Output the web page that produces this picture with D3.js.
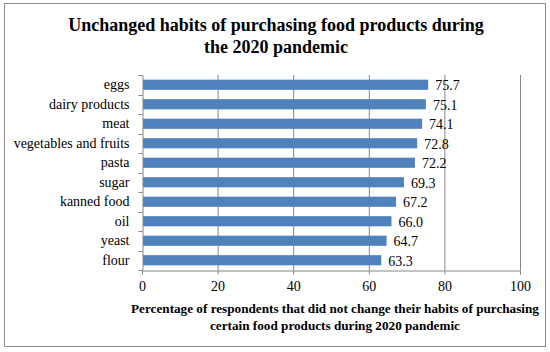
<!DOCTYPE html>
<html>
<head>
<script src="https://d3js.org/d3.v7.min.js"></script>
<style>
  body { margin: 0; background: #fff; }
  text { font-family: "Liberation Serif", "DejaVu Serif", serif; fill: #000; }
</style>
</head>
<body>
<svg width="550" height="352"></svg>
<script>
var categories = ["eggs", "dairy products", "meat", "vegetables and fruits", "pasta",
                  "sugar", "kanned food", "oil", "yeast", "flour"];
var values = [75.7, 75.1, 74.1, 72.8, 72.2, 69.3, 67.2, 66.0, 64.7, 63.3];
var xTicks = [0, 20, 40, 60, 80, 100];
var titleLines = ["Unchanged habits of purchasing food products during", "the 2020 pandemic"];
var axisTitleLines = ["Percentage of respondents that did not change their habits of purchasing",
                      "certain food products during 2020 pandemic"];

var serif = "'Liberation Serif', 'DejaVu Serif', serif";

var svg = d3.select("svg"),
    margin = {top: 75, left: 142, right: 30, bottom: 82},
    width = 550 - margin.left - margin.right,
    height = 352 - margin.top - margin.bottom;

var data = categories.map(function(c, i) { return {name: c, value: values[i]}; });

// outer frame
svg.append("rect")
    .attr("x", 4.5).attr("y", 3.5)
    .attr("width", 541).attr("height", 343)
    .attr("fill", "#fff")
    .attr("stroke", "#8c8c8c")
    .attr("stroke-width", 1);

svg.append("g").selectAll("text")
    .data(titleLines)
    .enter().append("text")
    .attr("x", 276)
    .attr("y", function(d, i) { return 31 + i * 22; })
    .attr("text-anchor", "middle")
    .style("font-size", "18px")
    .style("font-weight", "bold")
    .text(function(d) { return d; });

var x = d3.scaleLinear().domain([0, 100]).range([0, width]);
var y = d3.scaleBand().domain(categories).range([0, height]).paddingInner(0.48).paddingOuter(0.24);

var g = svg.append("g")
    .attr("transform", "translate(" + margin.left + "," + margin.top + ")");

// gridlines
g.append("g").selectAll("line")
    .data(xTicks.slice(1))
    .enter().append("line")
    .attr("x1", function(d) { return x(d) + 0.5; })
    .attr("x2", function(d) { return x(d) + 0.5; })
    .attr("y1", 0).attr("y2", height)
    .attr("stroke", "#868686");

g.append("g").selectAll("rect")
    .data(data)
    .enter().append("rect")
    .attr("x", x(0) + 1)
    .attr("y", function(d) { return y(d.name); })
    .attr("width", function(d) { return x(d.value) - x(0) - 1; })
    .attr("height", y.bandwidth())
    .attr("fill", "#4f81bd");

g.append("g").selectAll("text")
    .data(data)
    .enter().append("text")
    .attr("x", function(d) { return x(d.value) + 7; })
    .attr("y", function(d) { return y(d.name) + y.bandwidth() / 2; })
    .attr("dy", "0.38em")
    .style("font-size", "14px")
    .text(function(d) { return d.value.toFixed(1); });

// y axis
var yAxis = g.append("g")
    .attr("transform", "translate(0.5,0)")
    .call(d3.axisLeft(y).tickSize(0).tickPadding(13));
yAxis.attr("font-family", null);
yAxis.select(".domain").attr("stroke", "#868686");
yAxis.selectAll("text").style("font-size", "14px").style("font-family", serif);
// y tick marks between categories
yAxis.append("g").selectAll("line")
    .data(d3.range(categories.length + 1))
    .enter().append("line")
    .attr("x1", -4).attr("x2", 0)
    .attr("y1", function(i) { return Math.round(i * height / categories.length) + 0.5; })
    .attr("y2", function(i) { return Math.round(i * height / categories.length) + 0.5; })
    .attr("stroke", "#868686");

// x axis
var xAxis = g.append("g")
    .attr("transform", "translate(0," + (height + 0.5) + ")")
    .call(d3.axisBottom(x).tickValues(xTicks).tickSize(4).tickPadding(7));
xAxis.attr("font-family", null);
xAxis.select(".domain").attr("stroke", "#868686");
xAxis.selectAll(".tick line").attr("stroke", "#868686");
xAxis.selectAll("text").style("font-size", "14px").style("font-family", serif);

svg.append("g").selectAll("text")
    .data(axisTitleLines)
    .enter().append("text")
    .attr("x", 335)
    .attr("y", function(d, i) { return 313 + i * 17; })
    .attr("text-anchor", "middle")
    .style("font-size", "13.2px")
    .style("font-weight", "bold")
    .text(function(d) { return d; });
</script>
</body>
</html>
